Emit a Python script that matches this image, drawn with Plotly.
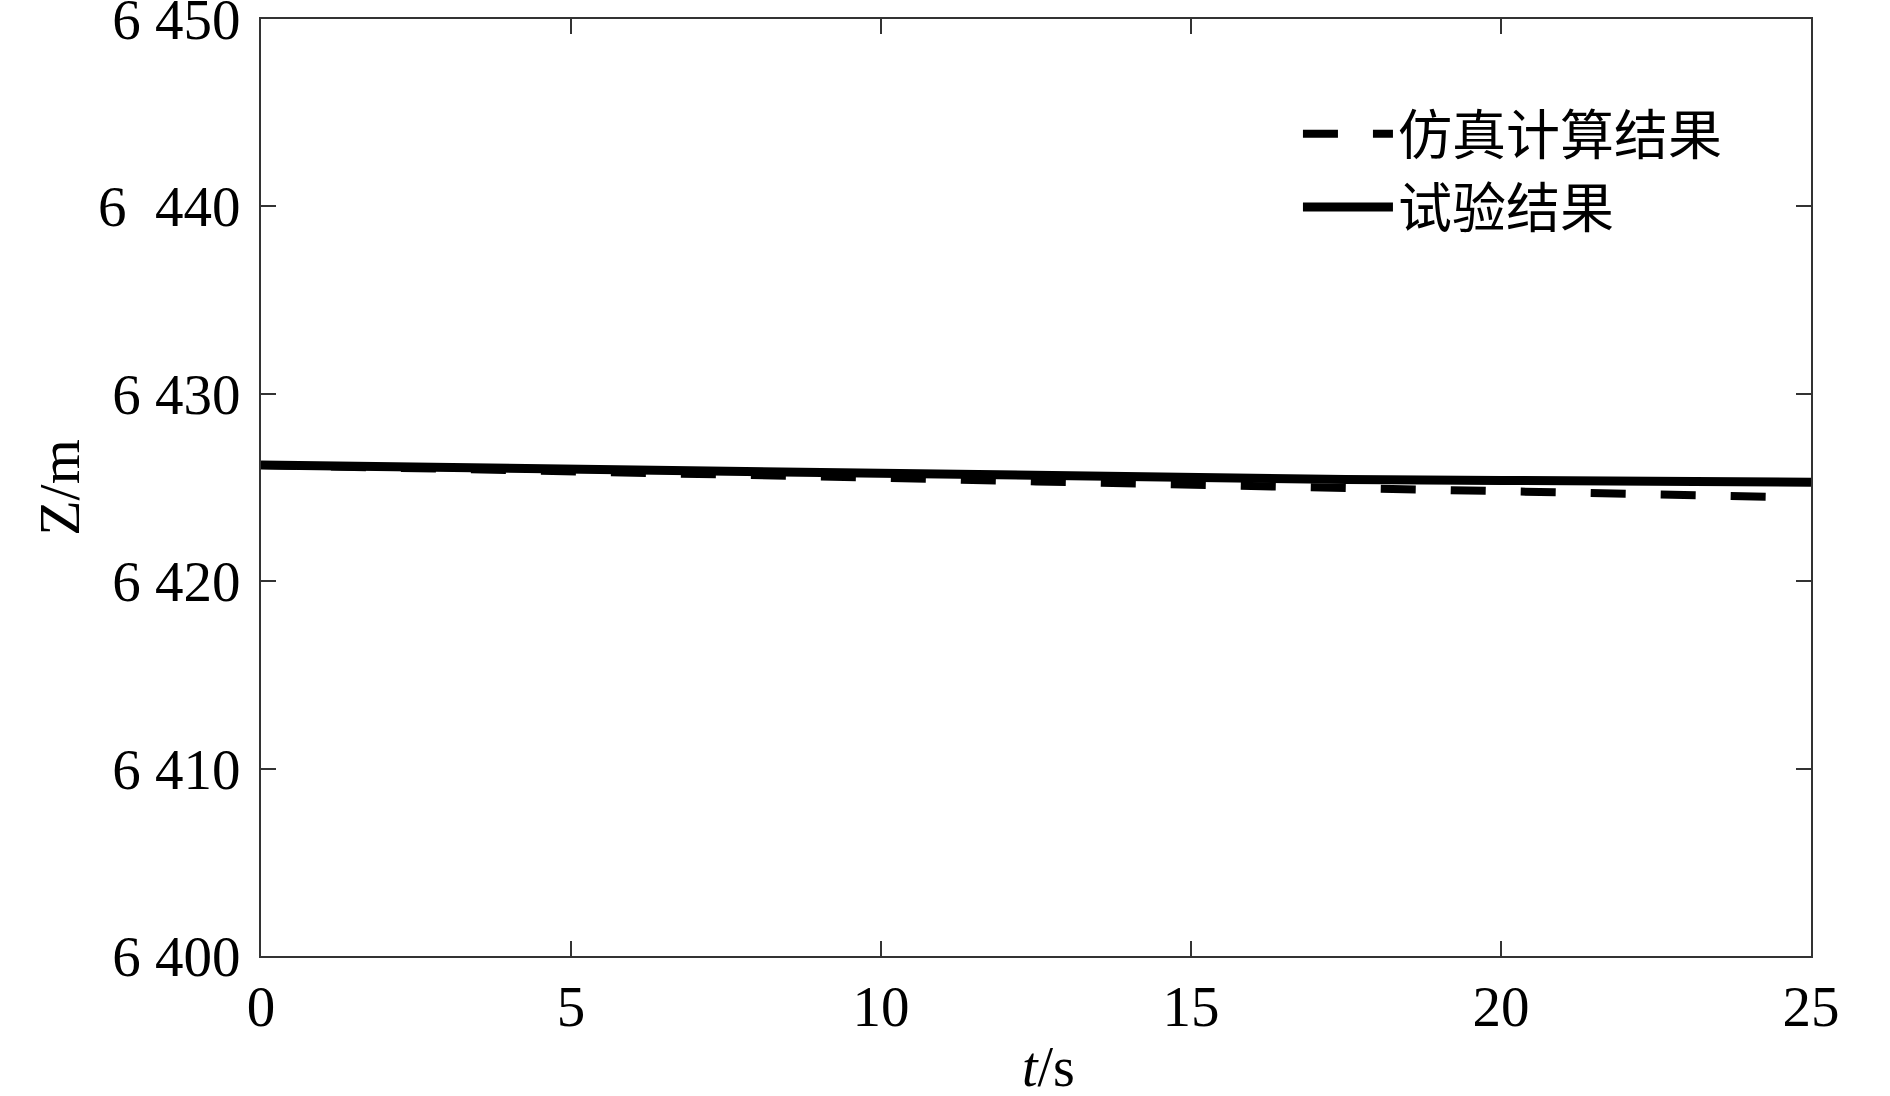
"""
Z vs t: simulation result (dashed) against test result (solid).
"""

import plotly.graph_objects as go

# data
t_test = [0, 2.5, 5, 7.5, 10, 12.5, 15, 17.5, 20, 22.5, 25]
z_test = [6426.20, 6426.08, 6425.97, 6425.86, 6425.72, 6425.62,
          6425.52, 6425.43, 6425.38, 6425.33, 6425.28]

t_sim = [0, 2.5, 5, 7.5, 10, 12.5, 15, 17.5, 20, 22.5, 24.4]
z_sim = [6426.20, 6426.05, 6425.92, 6425.76, 6425.52, 6425.32,
         6425.13, 6424.95, 6424.80, 6424.62, 6424.50]

x_ticks = [0, 5, 10, 15, 20, 25]
y_ticks = [6400, 6410, 6420, 6430, 6440, 6450]
y_ticktext = ['6\u00a0400', '6\u00a0410', '6\u00a0420', '6\u00a0430',
              '6\u00a0\u00a0440', '6\u00a0450']

name_sim = '仿真计算结果'
name_test = '试验结果'
x_title = '<i>t</i>/s'
y_title = 'Z/m'

FONT = 'Liberation Serif, Times New Roman, Noto Sans CJK SC, serif'
AXIS_COLOR = '#333333'

fig = go.Figure()

fig.add_trace(go.Scatter(
    x=t_sim,
    y=z_sim,
    mode='lines',
    name=name_sim,
    line=dict(color='black', width=8, dash='35px,35px')
))

fig.add_trace(go.Scatter(
    x=t_test,
    y=z_test,
    mode='lines',
    name=name_test,
    line=dict(color='black', width=9)
))

axis_common = dict(
    showline=True,
    linecolor=AXIS_COLOR,
    linewidth=2,
    mirror='ticks',
    ticks='inside',
    ticklen=15,
    tickwidth=2,
    tickcolor=AXIS_COLOR,
    showgrid=False,
    zeroline=False,
    ticklabeloverflow='allow',
    tickfont=dict(family=FONT, size=57, color='black'),
)

fig.update_layout(
    width=1890,
    height=1096,
    margin=dict(l=261, r=79, t=19, b=140, autoexpand=False),
    plot_bgcolor='white',
    paper_bgcolor='white',
    font=dict(family=FONT, size=56, color='black'),
    showlegend=True,
    legend=dict(
        x=0.669,
        y=0.922,
        xanchor='left',
        yanchor='top',
        bgcolor='rgba(0,0,0,0)',
        font=dict(family=FONT, size=54, color='black'),
        itemwidth=90,
        tracegroupgap=0,
    ),
    xaxis=dict(
        range=[0, 25],
        tickvals=x_ticks,
        **axis_common
    ),
    yaxis=dict(
        range=[6400, 6450],
        tickvals=y_ticks,
        ticktext=y_ticktext,
        ticklabelstandoff=7,
        title=dict(text=y_title, font=dict(family=FONT, size=58), standoff=0),
        **axis_common
    ),
)

# x title sits a little right of centre in the reference
fig.add_annotation(
    text=x_title,
    xref='paper', yref='paper',
    x=0.508, y=0,
    xanchor='center', yanchor='middle',
    yshift=-111,
    showarrow=False,
    font=dict(family=FONT, size=56, color='black'),
)

# drop the default page margin so the figure fills the window exactly
fig.write_html(
    "out.html",
    config={'displayModeBar': False},
    post_script="document.body.style.margin='0';",
)
